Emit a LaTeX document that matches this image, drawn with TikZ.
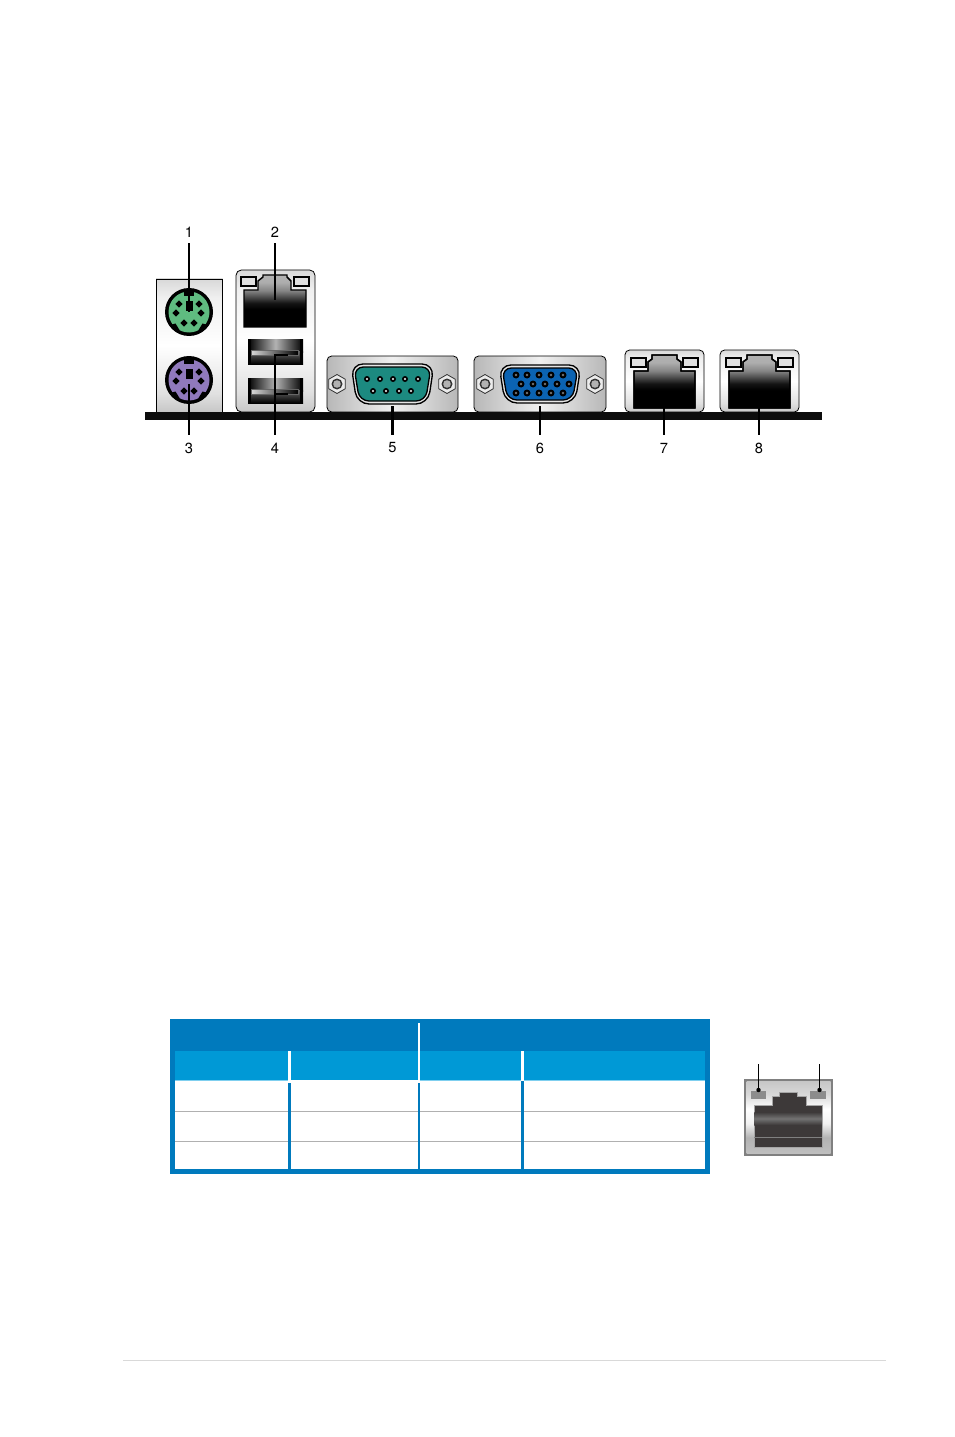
\documentclass[tikz,border=0pt]{standalone}
\usepackage{fontspec}
\setmainfont{TeX Gyre Heros}
\definecolor{tdark}{HTML}{007ABD}
\definecolor{tlight}{HTML}{0099D6}
\definecolor{tstrip}{HTML}{7FCFEF}
\definecolor{rowline}{HTML}{B0B0B0}
\definecolor{psgreen}{HTML}{5FBB80}
\definecolor{pspurple}{HTML}{9079BC}
\definecolor{dteal}{HTML}{1C8A80}
\definecolor{dblue}{HTML}{0B63B2}
\definecolor{jackdark}{HTML}{3D3939}
\pgfdeclareverticalshading{rjshade}{100bp}{color(0bp)=(black);color(42bp)=(black);color(48bp)=(black!92!white);color(60bp)=(black!48!white);color(68bp)=(black!32!white);color(75bp)=(black!30!white);color(100bp)=(black!30!white)}
\pgfdeclareverticalshading{panelv}{100bp}{color(0bp)=(black!22);color(25bp)=(black!22);color(32bp)=(black!12);color(50bp)=(white);color(68bp)=(black!6);color(75bp)=(black!15);color(100bp)=(black!15)}
\pgfdeclareverticalshading{ledbg}{100bp}{color(0bp)=(black!25);color(25bp)=(black!25);color(36bp)=(black!30);color(46bp)=(black!5);color(56bp)=(white);color(66bp)=(black!15);color(75bp)=(black!22);color(100bp)=(black!22)}
\tikzset{
  lab/.style={inner xsep=0pt,font=\fontsize{11}{13}\selectfont},
  labtop/.style={lab,inner ysep=4.4pt},
  labbot/.style={lab,inner ysep=5.9pt},
  conn/.style={line width=1.9pt,black},
  connthin/.style={line width=1.5pt,black},
  ledline/.style={line width=0.8pt,black},
  panelbox/.style={draw=black,line width=0.6pt,rounded corners=3.5pt},
  jackline/.style={draw=black,line width=1.1pt},
  win/.style={draw=black,line width=0.9pt,fill=black!12},
  pin/.style={fill=black}
}
\newcommand{\pstwo}[3]{%
  \begin{scope}[shift={(#1,#2)}]
    \fill[black] (0,0) circle (24);
    \fill[#3] (0,0) circle (20.5);
    \fill[black] (-5,-22) rectangle (5,-16);
    \fill[black] (-3.5,-11) rectangle (3.5,-1);
    \fill[black] (-19,13) -- (-13.5,11.5) -- (-9.5,18) -- (-12,20) -- cycle;
    \fill[black] (19,13) -- (13.5,11.5) -- (9.5,18) -- (12,20) -- cycle;
    \foreach \a/\b in {-10/-8,10/-8,-13/1,12/1,-5/11,5/11}
      \fill[black] (\a-3.6,\b) -- (\a,\b-3.6) -- (\a+3.6,\b) -- (\a,\b+3.6) -- cycle;
  \end{scope}}
\newcommand{\screw}[2]{%
  \begin{scope}[shift={(#1,#2)}]
    \draw[black!80,line width=0.6pt,fill=black!8] (30:9.5) -- (90:9.5) -- (150:9.5) -- (210:9.5) -- (270:9.5) -- (330:9.5) -- cycle;
    \fill[black!80] (0,0) circle (5.5);
    \fill[black!30] (0,0) circle (3.8);
  \end{scope}}
\newcommand{\dsub}[5]{%
  \draw[black,line width=1pt,fill=black!10,rounded corners=9pt] (#1,#3) -- (#2,#3) -- (#2-6,#4) -- (#1+6,#4) -- cycle;
  \draw[black,line width=1pt,fill=#5,rounded corners=7pt] (#1+3,#3+3) -- (#2-3,#3+3) -- (#2-8.5,#4-3) -- (#1+8.5,#4-3) -- cycle;}
\newcommand{\rjport}[1]{%
  \begin{scope}[shift={(#1,350)}]
    \path[rounded corners=3.5pt,shading=panelv] (0,0) rectangle (79,62);
    \draw[panelbox] (0,0) rectangle (79,62);
    \draw[jackline,shading=rjshade] (9,21) -- (23,21) -- (23,12) -- (27,9) -- (27,5) -- (52,5) -- (52,9) -- (56,12) -- (56,21) -- (70,21) -- (70,58) -- (9,58) -- cycle;
    \draw[jackline] (9,21) -- (23,21) -- (23,12) -- (27,9) -- (27,5) -- (52,5) -- (52,9) -- (56,12) -- (56,21) -- (70,21) -- (70,58) -- (9,58) -- cycle;
    \draw[win] (6,8) rectangle (21,17);
    \draw[win] (58,8) rectangle (73,17);
  \end{scope}}
\newcommand{\usbport}[1]{%
  \begin{scope}[shift={(248,#1)}]
    \shade[left color=black,right color=black,middle color=black!30] (0,0) rectangle (55,13);
    \shade[top color=black!60,bottom color=black,shading angle=0] (0,12) rectangle (55,25);
    \fill[black] (0,0) rectangle (3,25);
    \fill[black] (52,0) rectangle (55,25);
    \draw[black!60,line width=0.5pt,left color=black!15,right color=black] (3,11) rectangle (50,16);
  \end{scope}}
\begin{document}
\begin{tikzpicture}[x=0.75pt,y=-0.75pt]
\useasboundingbox (0,0) rectangle (954,1437);
\fill[white] (0,0) rectangle (954,1437);

% left panels
\path[shading=panelv] (156,279) rectangle (222.5,412);
\draw[black,line width=0.6pt] (156,412) -- (156,279) -- (222.5,279) -- (222.5,412);
\pstwo{189}{312}{psgreen}
\pstwo{189}{380}{pspurple}

\path[shading=panelv,rounded corners=4pt] (236,270) rectangle (315,412);
\draw[panelbox,rounded corners=4pt] (236,270) rectangle (315,412);
\draw[jackline,shading=rjshade] (244,290) -- (258,290) -- (258,281) -- (263,277) -- (263,275) -- (287,275) -- (287,277) -- (291,281) -- (291,290) -- (306,290) -- (306,327) -- (244,327) -- cycle;
\draw[win] (241,277) rectangle (256,286);
\draw[win] (294,277) rectangle (309,286);
\usbport{339}
\usbport{378}

% serial panel
\path[rounded corners=3.5pt,left color=black!28,right color=black!28,middle color=black!6] (327,356) rectangle (458,412);
\draw[panelbox] (327,356) rectangle (458,412);
\screw{337}{384}
\screw{447}{384}
\dsub{351}{434}{364}{404}{dteal}
\foreach \px in {367,380,393,405,418} { \fill[black] (\px,379) circle (3); \fill[white] (\px,379) circle (1.2); }
\foreach \px in {373,386,399,411} { \fill[black] (\px,391) circle (3); \fill[white] (\px,391) circle (1.2); }

% VGA panel
\path[rounded corners=3.5pt,left color=black!28,right color=black!28,middle color=black!6] (474,356) rectangle (606,412);
\draw[panelbox] (474,356) rectangle (606,412);
\screw{485}{384}
\screw{595}{384}
\dsub{499}{581}{365}{403}{dblue}
\foreach \px in {516,527,539,551,563} { \fill[black] (\px,375) circle (3.5); \fill[black!55] (\px,375) circle (1.4); }
\foreach \px in {521,533,545,557,569} { \fill[black] (\px,384) circle (3.5); \fill[black!55] (\px,384) circle (1.4); }
\foreach \px in {516,527,539,551,563} { \fill[black] (\px,393) circle (3.5); \fill[black!55] (\px,393) circle (1.4); }

\rjport{625}
\rjport{720}

% base bar
\fill[black!95] (145,412) rectangle (822,420);

% labels
\node[labtop] (l1) at (189,232) {1};
\node[labtop] (l2) at (275,232) {2};
\node[labbot] (l3) at (189,448) {3};
\node[labbot] (l4) at (275,448) {4};
\node[labbot] (l5) at (392.5,448) {5};
\node[labbot] (l6) at (540,448) {6};
\node[labbot] (l7) at (664,448) {7};
\node[labbot] (l8) at (759,448) {8};

% connector targets
\coordinate (t1) at (189,312);
\coordinate (t2) at (275,300);
\coordinate (t3) at (189,384);
\coordinate (t4a) at (288,355);
\coordinate (t4b) at (288,394);
\coordinate (t5) at (392.5,406);
\coordinate (t6) at (540,406);
\coordinate (t7) at (664,408);
\coordinate (t8) at (759,408);

\draw[conn] (l1.south) -- (t1);
\draw[connthin] (l2.south) -- (t2);
\draw[conn] (l3.north) -- (t3);
\draw[connthin] (l4.north) |- (t4a);
\draw[connthin] (l4.north) |- (t4b);
\draw[conn] (l5.north) -- (t5);
\draw[conn] (l6.north) -- (t6);
\draw[conn] (l7.north) -- (t7);
\draw[conn] (l8.north) -- (t8);

% table
\fill[tdark] (170,1019) rectangle (710,1174);
\fill[white] (175,1051) rectangle (705,1169);
\fill[tlight] (175,1051) rectangle (705,1080);
\fill[tstrip] (175,1080) rectangle (705,1081);
\fill[white] (291,1080) rectangle (418,1083);
\draw[rowline,line width=0.75pt] (175,1111.5) -- (705,1111.5);
\draw[rowline,line width=0.75pt] (175,1141.5) -- (705,1141.5);
\fill[white] (418,1023) rectangle (420,1083);
\fill[white] (288,1051) rectangle (291,1083);
\fill[white] (521,1051) rectangle (524,1081);
\fill[tdark] (288,1083) rectangle (291,1169);
\fill[tdark] (418,1083) rectangle (420,1169);
\fill[tdark] (521,1081) rectangle (524,1169);

% LED icon
\fill[black!50] (744,1079) rectangle (833,1156);
\path[shading=ledbg] (746.5,1081.5) rectangle (830.5,1153.5);
\fill[black!45] (751,1091) rectangle (766,1099);
\fill[black!45] (810,1091) rectangle (826,1099);
\draw[black!35,line width=0.6pt,fill=jackdark] (754,1105) -- (772,1105) -- (772,1096) -- (779,1096) -- (779,1092) -- (797,1092) -- (797,1096) -- (806,1096) -- (806,1105) -- (822,1105) -- (822,1147) -- (754,1147) -- cycle;
\shade[top color=jackdark,bottom color=jackdark,middle color=black!55] (754.3,1112) rectangle (821.7,1125);
\fill[black!50] (754.3,1136.5) rectangle (821.7,1137.5);

\fill[black] (758.5,1090) circle (2.2);
\fill[black] (819.5,1090) circle (2.2);
\coordinate (f1) at (758.5,1064);
\coordinate (f2) at (819.5,1064);
\coordinate (d1) at (758.5,1090);
\coordinate (d2) at (819.5,1090);
\draw[ledline] (f1) -- (d1);
\draw[ledline] (f2) -- (d2);

% footer rule
\fill[black!15] (123,1359.5) rectangle (886,1360.8);
\end{tikzpicture}
\end{document}
